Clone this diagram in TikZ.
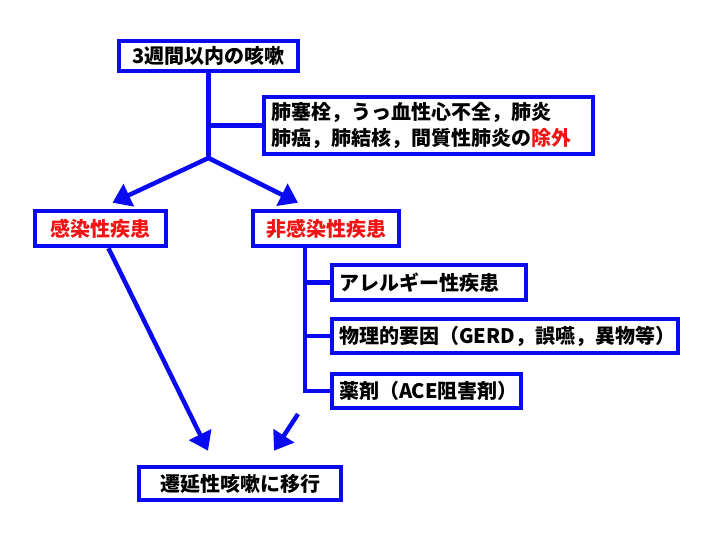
\documentclass[tikz,border=0pt]{standalone}
\usepackage{fontspec}
\setmainfont{Noto Sans CJK JP}
\usetikzlibrary{arrows.meta, positioning}
\definecolor{blueLine}{RGB}{10,10,240}
\definecolor{redText}{RGB}{240,20,20}

\begin{document}
\begin{tikzpicture}[
    x=1pt, y=-1pt,
    box/.style={rectangle, draw=blueLine, line width=4.5pt, fill=white, inner xsep=7pt, inner ysep=0pt, align=center, font=\bfseries\fontsize{20}{26}\selectfont},
    link/.style={draw=blueLine, line width=4.5pt},
    arr/.style={link, -{Triangle[length=18pt,width=24pt]}}
]
\useasboundingbox[fill=white] (0,0) rectangle (720,540);

\node[box, minimum width=179pt, minimum height=30pt] (cough) at (208.5,56) {3週間以内の咳嗽};
\node[box, minimum width=329pt, minimum height=57pt, text width=315pt, align=left] (exclude) at (428.5,125.5) {肺塞栓，うっ血性心不全，肺炎\\肺癌，肺結核，間質性肺炎の\textcolor{redText}{除外}};

\node[box, minimum width=131pt, minimum height=35pt, text=redText] (infect) at (100.5,228.5) {感染性疾患};
\node[box, minimum width=146pt, minimum height=35pt, text=redText] (noninfect) at (326,228.5) {非感染性疾患};

\node[box, minimum width=194pt, minimum height=35pt, text width=180pt, align=left] (allergy) at (429,282.5) {アレルギー性疾患};
\node[box, minimum width=346pt, minimum height=34pt, text width=332pt, align=left] (physical) at (505,336) {物理的要因（GERD，誤嚥，異物等）};
\node[box, minimum width=189pt, minimum height=34pt, text width=175pt, align=left] (drug) at (426.5,391) {薬剤（ACE阻害剤）};

\node[box, minimum width=202pt, minimum height=33pt] (chronic) at (240,483.5) {遷延性咳嗽に移行};

% branches from the top box
\coordinate (split) at (208.5,158);
\draw[link] (cough.south) -- (split);
\draw[link] (cough.south |- exclude.west) -- (exclude.west);
\draw[arr] (split) -- ([xshift=12pt,yshift=6pt]infect.north);
\draw[arr] (split) -- ([xshift=-28pt,yshift=6pt]noninfect.north);

% non-infectious causes
\coordinate (spine) at ([xshift=-21pt]noninfect.south);
\draw[link] (spine) -- (spine |- drug.west) -- (drug.west);
\draw[link] (spine |- allergy.west) -- (allergy.west);
\draw[link] (spine |- physical.west) -- (physical.west);

% to chronic cough
\coordinate (tail) at (298,414);
\draw[arr] ([xshift=8pt]infect.south) -- ([xshift=-32pt,yshift=14pt]chronic.north);
\draw[arr] (tail) -- ([xshift=34pt,yshift=14pt]chronic.north);
\end{tikzpicture}
\end{document}
